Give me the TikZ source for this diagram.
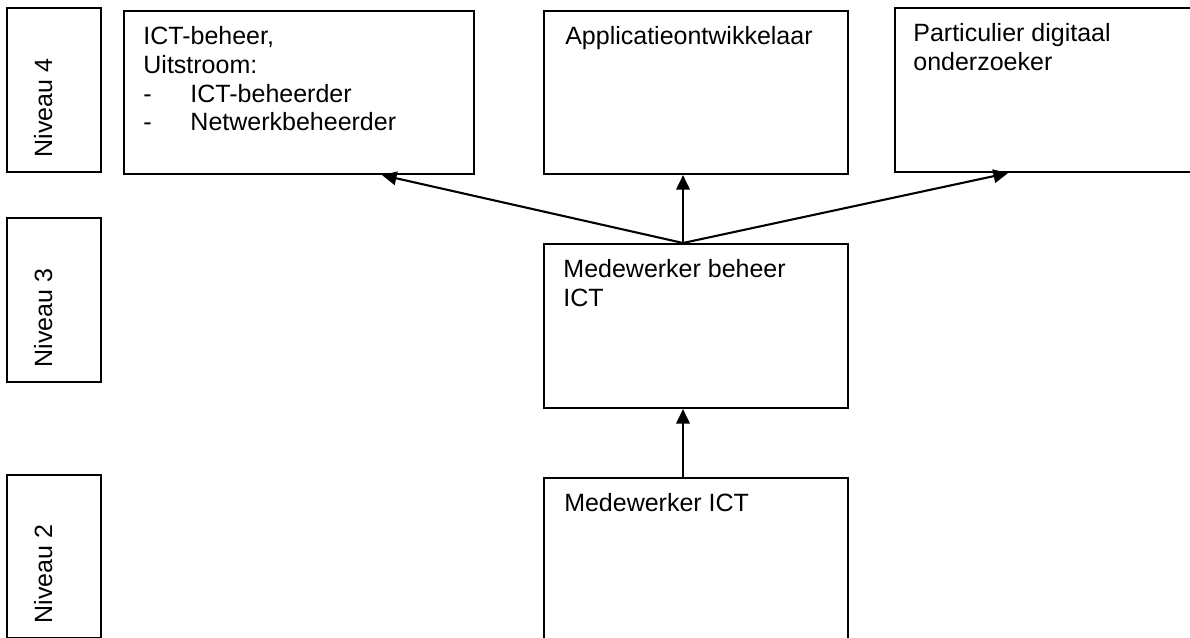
\documentclass[tikz,border=0pt]{standalone}
\usepackage{fontspec}
\setmainfont{Liberation Sans}
\usetikzlibrary{positioning}
\usetikzlibrary{calc}
\usetikzlibrary{arrows.meta}

\tikzset{
  box/.style={draw, line width=1pt, rectangle, inner sep=0pt, anchor=north west},
  txt/.style={inner sep=0pt, align=left, font=\fontsize{12}{13.8}\selectfont},
  lvl/.style={anchor=base west, inner sep=0pt, rotate=90, font=\fontsize{12}{13.8}\selectfont},
  link/.style={line width=1pt, -{Triangle[length=7pt,width=6.5pt]}}
}

\begin{document}
\begin{tikzpicture}[x=0.48pt, y=-0.48pt]
\useasboundingbox (0,0) rectangle (1190,638);
% niveaus
\node[box, minimum width=45.12pt, minimum height=78.72pt] (niv4) at (6,7) {};
\node[box, minimum width=45.12pt, minimum height=78.72pt] (niv3) at (6,217) {};
\node[box, minimum width=45.12pt, minimum height=78.24pt] (niv2) at (6,474) {};
\node[lvl] (niv4t) at (52,158) {Niveau 4};
\node[lvl] (niv3t) at (52,368) {Niveau 3};
\node[lvl] (niv2t) at (52,624) {Niveau 2};
% functies
\node[box, minimum width=168pt, minimum height=78.24pt] (ict) at (123,10) {};
\node[box, minimum width=145.92pt, minimum height=78.24pt] (app) at (543,10) {};
\node[box, minimum width=153.6pt, minimum height=78.72pt] (part) at (894,7) {};
\node[box, minimum width=145.92pt, minimum height=78.72pt] (mb) at (543,243) {};
\node[box, minimum width=145.92pt, minimum height=86.4pt] (mict) at (543,477) {};
\node[txt, below right=6.72pt and 9.6pt of ict.north west] (ictt)
  {\strut ICT-beheer,\\Uitstroom:\\\makebox[22.6pt][l]{-}ICT-beheerder\\\makebox[22.6pt][l]{-}Netwerkbeheerder};
\node[txt, below right=6.72pt and 10.5pt of app.north west] (appt) {\strut Applicatieontwikkelaar};
\node[txt, below right=6.72pt and 9.1pt of part.north west] (partt) {\strut Particulier digitaal\\onderzoeker};
\node[txt, below right=6.72pt and 9.6pt of mb.north west] (mbt) {\strut Medewerker beheer\\ICT};
\node[txt, below right=6.72pt and 10pt of mict.north west] (mictt) {\strut Medewerker ICT};
% pijlen
\coordinate (hub) at ($(mb.north west)+(140,0)$);
\draw[link] (hub) -- ($(ict.south west)+(259,0)$);
\draw[link] (hub) -- (hub |- app.south);
\draw[link] (hub) -- ($(part.south west)+(114,0)$);
\draw[link] (hub |- mict.north) -- (hub |- mb.south);
\end{tikzpicture}
\end{document}
